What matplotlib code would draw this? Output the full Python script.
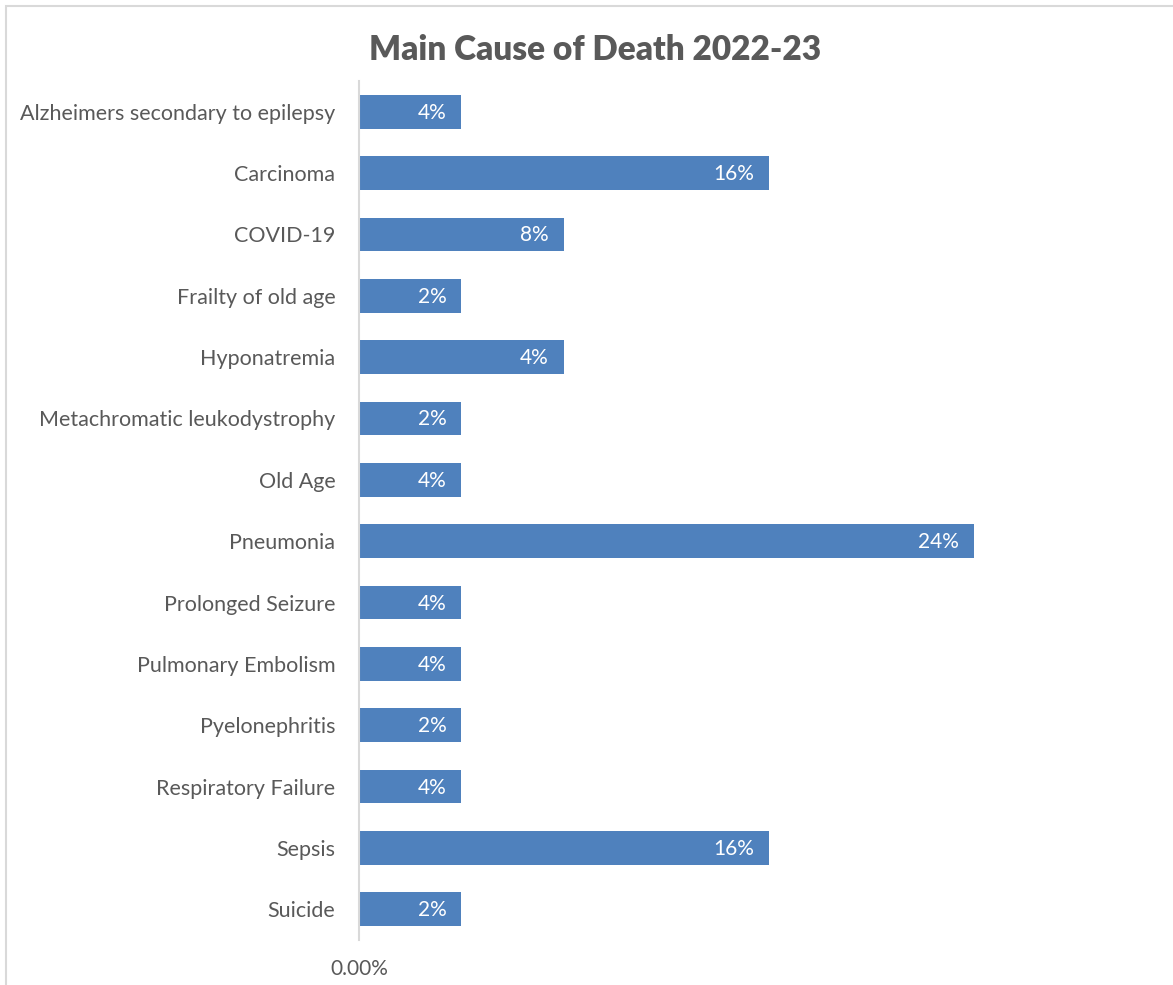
import matplotlib.pyplot as plt
from matplotlib.patches import Rectangle

causes = ["Alzheimers secondary to epilepsy", "Carcinoma", "COVID-19", "Frailty of old age",
          "Hyponatremia", "Metachromatic leukodystrophy", "Old Age", "Pneumonia",
          "Prolonged Seizure", "Pulmonary Embolism", "Pyelonephritis", "Respiratory Failure",
          "Sepsis", "Suicide"]
# bar lengths as drawn (the chart's bars do not follow its labels exactly)
bar_lengths = [1, 4, 2, 1, 2, 1, 1, 6, 1, 1, 1, 1, 4, 1]
pct_labels = ["4%", "16%", "8%", "2%", "4%", "2%", "4%", "24%", "4%", "4%", "2%", "4%", "16%", "2%"]

plt.rcParams['font.family'] = ['Lato', 'DejaVu Sans']
gray = "#595959"
blue = "#4F81BD"

fig = plt.figure(figsize=(11.73, 9.85), dpi=100)
W, H = 1173, 985
ax = fig.add_axes([359 / W, 45 / H, (1150 - 359) / W, (940 - 81) / H])

y = list(range(len(causes)))
ax.barh(y, bar_lengths, height=0.55, color=blue)
for yi, v, lab in zip(y, bar_lengths, pct_labels):
    ax.annotate(lab, (v, yi), xytext=(-15, -1), textcoords="offset pixels",
                ha="right", va="center", color="white", fontsize=15)

ax.set_ylim(len(causes) - 0.5, -0.5)
ax.set_xlim(0, (1150 - 359) / 102.5)
ax.set_yticks(y)
ax.set_yticklabels(causes, fontsize=15.5, color=gray)
ax.set_xticks([0])
ax.set_xticklabels(["0.00%"], fontsize=15, color=gray)
ax.tick_params(length=0, pad=17)
ax.tick_params(axis="x", pad=14)
for s in ["top", "right", "bottom"]:
    ax.spines[s].set_visible(False)
ax.spines["left"].set_color("#D9D9D9")
ax.spines["left"].set_linewidth(1.5)

fig.text(595 / W, 1 - 50 / H, "Main Cause of Death 2022-23", ha="center", va="center",
         fontsize=24, fontweight="heavy", color=gray)

# chart area border
fig.patches.append(Rectangle((6 / W, -0.1), 1.2, 1 - 6 / H + 0.1, transform=fig.transFigure,
                             fill=False, edgecolor="#D9D9D9", linewidth=1.5))

fig.savefig("out.png", dpi=100)
